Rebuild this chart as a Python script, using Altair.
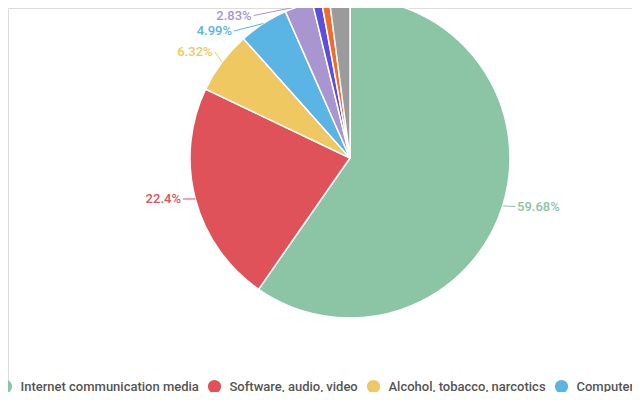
import altair as alt
import pandas as pd

categories = [
    "Internet communication media",
    "Software, audio, video",
    "Alcohol, tobacco, narcotics",
    "Computers, electronics",
    "Medical products",
    "Cosmetics",
    "Clothing",
    "Other",
]
values = [59.68, 22.4, 6.32, 4.99, 2.83, 0.92, 0.8, 2.06]
labels = ["59.68%", "22.4%", "6.32%", "4.99%", "2.83%", "0.92%", "0.8%", "2.06%"]
colors = ["#8cc4a6", "#e0525a", "#f0c862", "#5ab4e4", "#a995cf", "#5a4fdc", "#f26b2c", "#9b9b9b"]

N = len(values)
df = pd.DataFrame({
    "category": categories,
    "value": values,
    "label": labels,
    "color": colors,
    "idx": list(range(N)),
})

CX, CY, R = 342, 150, 160
LR = R + 12
TOP = -39
STEP = 15.5

base = (
    alt.Chart(df)
    .transform_window(cum="sum(value)", sort=[alt.SortField("idx")], frame=[None, 0])
    .transform_joinaggregate(total="sum(value)")
    .transform_calculate(mid="(datum.cum - datum.value/2)/datum.total*2*PI")
    .transform_calculate(
        left="sin(datum.mid) < 0",
        ex=f"{CX} + {R}*sin(datum.mid)",
        ey=f"{CY} - {R}*cos(datum.mid)",
        ny=f"{CY} - {LR}*cos(datum.mid)",
    )
    .transform_calculate(
        ly=f"datum.left ? max(datum.ny - 3, {TOP} + ({N - 1} - datum.idx)*{STEP}) : datum.ny - 3"
    )
    .transform_calculate(
        dx=f"sqrt(max(0, {LR}*{LR} - (datum.ly-{CY})*(datum.ly-{CY})))"
    )
    .transform_calculate(
        lx=f"datum.left ? {CX} - datum.dx : {CX} + datum.dx",
    )
    .transform_calculate(
        tx="datum.left ? datum.lx - 2 : datum.lx + 2",
    )
)

arcs = alt.Chart(df).mark_arc(outerRadius=R, stroke="white", strokeWidth=1.5).encode(
    theta=alt.Theta("value:Q", stack=True),
    order=alt.Order("idx:Q"),
    color=alt.Color(
        "category:N",
        scale=alt.Scale(domain=categories, range=colors),
        sort=categories,
        legend=alt.Legend(
            orient="none",
            legendX=-9.5,
            legendY=371.5,
            direction="horizontal",
            columns=N,
            symbolType="circle",
            symbolSize=175,
            symbolStrokeWidth=0,
            symbolOpacity=1,
            labelFont="Roboto",
            labelFontSize=13,
            labelFontWeight=500,
            labelColor="#555555",
            labelOffset=8,
            labelLimit=400,
            columnPadding=8,
            padding=0,
            title=None,
        ),
    ),
    x=alt.value(CX),
    y=alt.value(CY),
)

lines = base.mark_rule(strokeWidth=1).encode(
    x=alt.X("ex:Q", scale=None, axis=None),
    y=alt.Y("ey:Q", scale=None, axis=None),
    x2="lx:Q",
    y2="ly:Q",
    stroke=alt.Color("color:N", scale=None),
)

text_left = base.transform_filter("datum.left").mark_text(
    align="right", baseline="middle", font="Roboto", fontSize=13, fontWeight=500
).encode(
    x=alt.X("tx:Q", scale=None, axis=None),
    y=alt.Y("ly:Q", scale=None, axis=None),
    text="label:N",
    fill=alt.Color("color:N", scale=None),
)

text_right = base.transform_filter("!datum.left").mark_text(
    align="left", baseline="middle", font="Roboto", fontSize=13, fontWeight=500
).encode(
    x=alt.X("tx:Q", scale=None, axis=None),
    y=alt.Y("ly:Q", scale=None, axis=None),
    text="label:N",
    fill=alt.Color("color:N", scale=None),
)

chart = (
    alt.layer(arcs, lines, text_left, text_right)
    .properties(width=624, height=384, autosize=alt.AutoSizeParams(type="none"), padding=0)
    .configure_view(stroke="transparent", strokeWidth=0)
    .configure(background="white")
)

chart.save("out.html", embed_options={"renderer": "svg", "actions": False})
